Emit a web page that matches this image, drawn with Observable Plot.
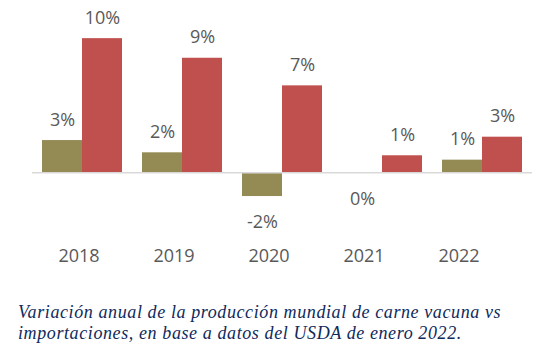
<!DOCTYPE html>
<html>
<head>
<meta charset="utf-8">
<script src="https://cdn.jsdelivr.net/npm/d3@7"></script>
<script src="https://cdn.jsdelivr.net/npm/@observablehq/plot@0.6"></script>
<style>
  html, body { margin: 0; padding: 0; background: #fff; width: 550px; height: 354px; overflow: hidden; }
  #chart svg, #axis svg { display: block; }
  #caption {
    margin: 30px 0 0 18px;
    font-family: "Liberation Serif", serif;
    font-style: italic;
    font-size: 18px;
    letter-spacing: 0.6px;
    line-height: 21px;
    color: #0f2a5c;
    white-space: nowrap;
  }
</style>
</head>
<body>
<div id="chart"></div>
<div id="axis"></div>
<div id="caption">Variación anual de la producción mundial de carne vacuna vs<br>importaciones, en base a datos del USDA de enero 2022.</div>
<script>
const years = ["2018", "2019", "2020", "2021", "2022"];
const production = [2.5, 1.55, -1.84, 0, 0.98];
const imports = [10.4, 8.88, 6.74, 1.32, 2.76];
const productionLabels = ["3%", "2%", "-2%", "0%", "1%"];
const importsLabels = ["10%", "9%", "7%", "1%", "3%"];

const prod = years.map((y, i) => ({year: y, value: production[i], label: productionLabels[i]}));
const imp = years.map((y, i) => ({year: y, value: imports[i], label: importsLabels[i]}));

const olive = "#948A54";
const red = "#C0504D";
const textColor = "#595959";

const chart = Plot.plot({
  width: 550,
  height: 232,
  marginLeft: 32,
  marginRight: 18,
  marginTop: 0,
  marginBottom: 0,
  style: {fontFamily: "Open Sans", fontSize: "18px", color: textColor, background: "#fff"},
  x: {type: "band", domain: years, paddingInner: 0.2, paddingOuter: 0.1, axis: null},
  y: {domain: [-4, 13], range: [172.3 + 4 * 12.9, 172.3 - 13 * 12.9], axis: null},
  marks: [
    Plot.barY(prod, {x: "year", y: "value", fill: olive, insetRight: 40}),
    Plot.barY(imp, {x: "year", y: "value", fill: red, insetLeft: 40}),
    Plot.ruleY([0], {stroke: "#d9d9d9", strokeWidth: 1.6}),
    Plot.text(prod.filter(d => d.value > 0), {x: "year", y: "value", text: "label", dx: -20, dy: -15, lineAnchor: "bottom", fill: textColor}),
    Plot.text(prod.filter(d => d.value <= 0), {x: "year", y: "value", text: "label", dx: -20, dy: 19, lineAnchor: "top", fill: textColor}),
    Plot.text(imp, {x: "year", y: "value", text: "label", dx: 20, dy: -15, lineAnchor: "bottom", fill: textColor})
  ]
});
document.getElementById("chart").appendChild(chart);

const axis = Plot.plot({
  width: 550,
  height: 40,
  marginLeft: 31.2,
  marginRight: 43.8,
  marginTop: 29,
  marginBottom: 0,
  style: {fontFamily: "Open Sans", fontSize: "18px", color: textColor, background: "#fff"},
  x: {type: "band", domain: years, padding: 0},
  y: {axis: null},
  marks: [
    Plot.axisX({anchor: "top", tickSize: 0, tickPadding: 0, label: null, fill: textColor})
  ]
});
document.getElementById("axis").appendChild(axis);
</script>
</body>
</html>
